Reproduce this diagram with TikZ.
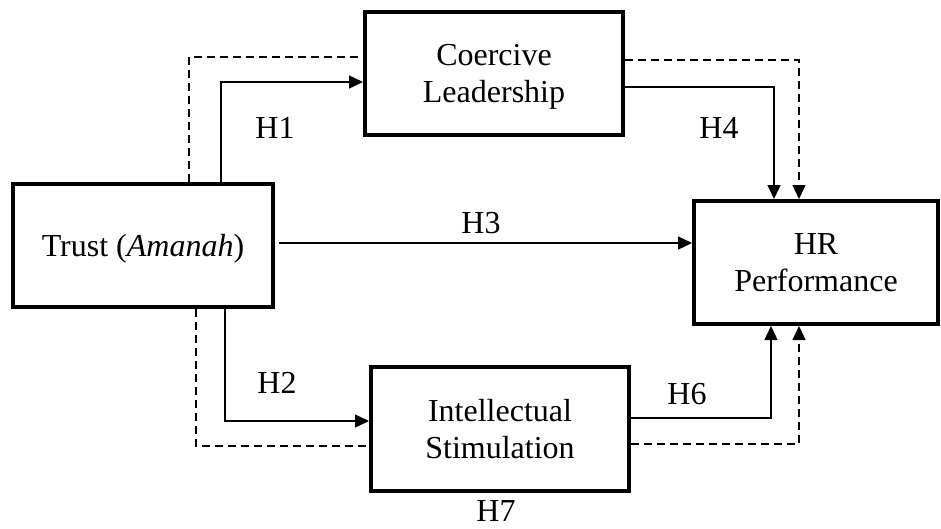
\documentclass[tikz,border=0pt]{standalone}
\usepackage{fontspec}
\setmainfont{Liberation Serif}
\usetikzlibrary{arrows.meta}
\begin{document}
\begin{tikzpicture}[x=1pt,y=-1pt,
  box/.style={draw, line width=4pt, rectangle, align=center, inner sep=0pt, text depth=0pt, font=\fontsize{32}{37}\selectfont},
  lbl/.style={inner sep=0pt, font=\fontsize{32}{37}\selectfont},
  conn/.style={line width=1.4pt},
  link/.style={conn, -{Triangle[length=14pt,width=13pt]}},
  dline/.style={conn, dash pattern=on 8pt off 5pt},
  dlink/.style={link, dash pattern=on 8pt off 5pt}]
\useasboundingbox (0,0) rectangle (941,528);
\node[box, minimum width=260pt, minimum height=123pt] (trust) at (143,245.5) {Trust (\textit{Amanah})};
\node[box, minimum width=258pt, minimum height=123pt] (coer) at (494,73.5) {Coercive\\Leadership};
\node[box, minimum width=244pt, minimum height=123pt] (hr) at (816,262.5) {HR\\Performance};
\node[box, minimum width=258pt, minimum height=124pt] (int) at (500,429) {Intellectual\\Stimulation};
% H1
\draw[link] ([xshift=78pt]trust.north) |- ([yshift=-8.5pt]coer.west);
\draw[dline] ([xshift=46pt]trust.north) |- ([yshift=16.5pt]coer.west);
% H4
\draw[link] ([yshift=-13.5pt]coer.east) -| ([xshift=-42pt]hr.north);
\draw[dlink] ([yshift=13.5pt]coer.east) -| ([xshift=-17pt]hr.north);
% H3
\coordinate (h3s) at ([yshift=2.5pt,xshift=4pt]trust.east);
\draw[link] (h3s) -- (h3s -| hr.west);
% H2
\draw[link] ([xshift=82pt]trust.south) |- ([yshift=8pt]int.west);
\draw[dline] ([xshift=53pt]trust.south) |- ([yshift=-17pt]int.west);
% H6
\draw[link] ([yshift=11pt]int.east) -| ([xshift=-45pt]hr.south);
\draw[dlink] ([yshift=-15pt]int.east) -| ([xshift=-17pt]hr.south);
% labels
\node[lbl] (l1) at (275,128) {H1};
\node[lbl] (l4) at (719,128) {H4};
\node[lbl] (l3) at (481,223) {H3};
\node[lbl] (l2) at (277,383) {H2};
\node[lbl] (l6) at (687,394) {H6};
\node[lbl] (l7) at (496,511) {H7};
\end{tikzpicture}
\end{document}
